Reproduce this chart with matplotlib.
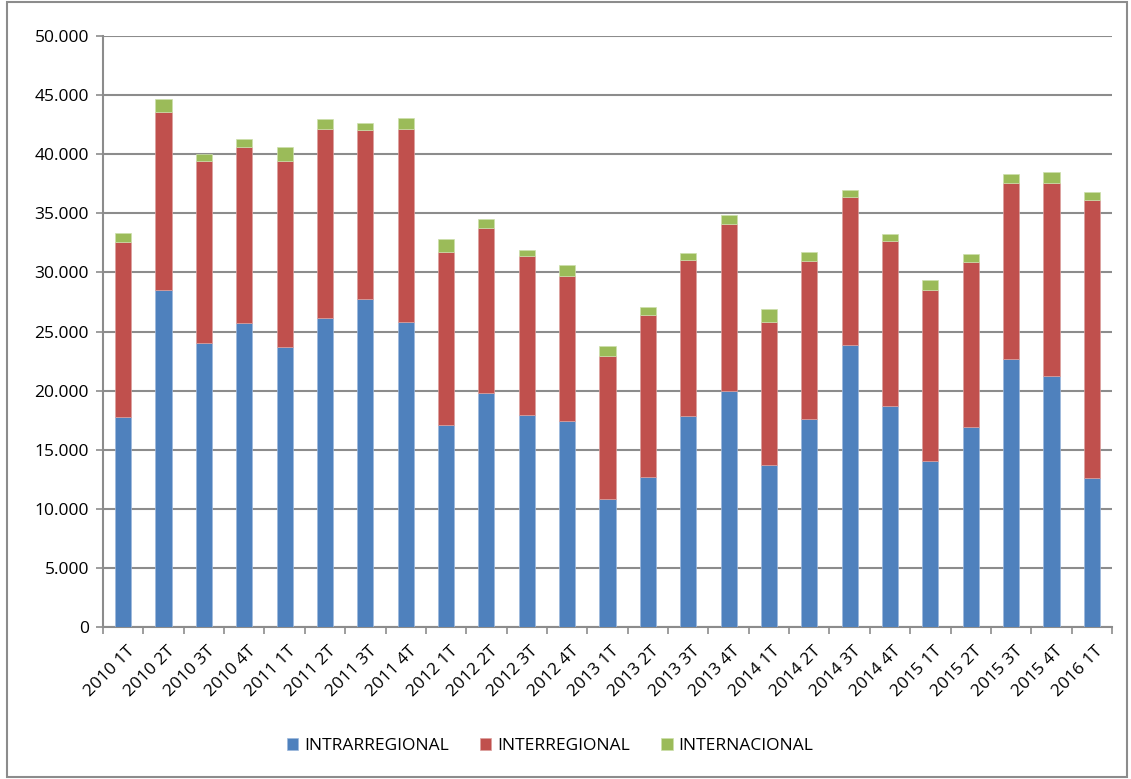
import numpy as np
import matplotlib
matplotlib.use('Agg')
import matplotlib.pyplot as plt
import matplotlib.patches as patches

# ----------------------------------------------------------------
# data

periods = ['2010 1T', '2010 2T', '2010 3T', '2010 4T',
           '2011 1T', '2011 2T', '2011 3T', '2011 4T',
           '2012 1T', '2012 2T', '2012 3T', '2012 4T',
           '2013 1T', '2013 2T', '2013 3T', '2013 4T',
           '2014 1T', '2014 2T', '2014 3T', '2014 4T',
           '2015 1T', '2015 2T', '2015 3T', '2015 4T',
           '2016 1T']

intrarregional = [17740, 28490, 24050, 25690, 23660, 26170, 27780, 25830,
                  17060, 19820, 17960, 17400, 10850, 12690, 17830, 19940,
                  13700, 17570, 23830, 18700, 14020, 16950, 22670, 21230,
                  12600]
interregional = [14800, 15110, 15370, 14940, 15790, 15990, 14300, 16330,
                 14640, 13960, 13400, 12320, 12100, 13680, 13250, 14180,
                 12120, 13420, 12520, 13980, 14520, 13930, 14920, 16360,
                 23550]
internacional = [790, 1050, 620, 650, 1130, 820, 570, 930,
                 1130, 740, 510, 900, 850, 680, 570, 760,
                 1050, 740, 620, 570, 800, 650, 740, 930,
                 680]

series_names = ['INTRARREGIONAL', 'INTERREGIONAL', 'INTERNACIONAL']
colors = ['#4F81BD', '#C0504D', '#9BBB59']

# ----------------------------------------------------------------
# plot

plt.rcParams['font.family'] = ['Open Sans', 'DejaVu Sans']
fs = 12.5

fig = plt.figure(figsize=(11.31, 7.79), dpi=100)
fig.set_facecolor('white')
ax = fig.add_axes([103/1131, 1-627/779, (1112-103)/1131, (627-36)/779])

x = np.arange(len(periods))
a = np.array(intrarregional)
b = np.array(interregional)
c = np.array(internacional)

w = 0.4
ax.bar(x, a, w, color=colors[0], label=series_names[0], zorder=3,
       edgecolor='#9db8dc', linewidth=0.5)
ax.bar(x, b, w, bottom=a, color=colors[1], label=series_names[1], zorder=3,
       edgecolor='#dca09e', linewidth=0.5)
ax.bar(x, c, w, bottom=a+b, color=colors[2], label=series_names[2], zorder=3,
       edgecolor='#cde0ac', linewidth=0.5)

ax.set_xlim(-0.5, len(periods)-0.5)
ax.set_ylim(0, 50000)
yt = np.arange(0, 50001, 5000)
ax.set_yticks(yt)
ax.set_yticklabels(['0' if v == 0 else '{:,}'.format(v).replace(',', '.') for v in yt],
                   fontsize=fs)
ax.yaxis.grid(True, color='#8c8c8c', linewidth=1.5, zorder=0)
ax.set_axisbelow(True)

# category ticks sit between bars
ax.set_xticks(np.arange(-0.5, len(periods), 1.0), minor=False)
ax.set_xticklabels([])
ax.set_xticks(x + 0.08, minor=True)
ax.set_xticklabels(periods, minor=True, rotation=45, ha='right',
                   rotation_mode='anchor', fontsize=fs)
ax.tick_params(axis='x', which='minor', length=0, pad=12)
ax.tick_params(axis='x', which='major', length=5, width=1.2, color='#8c8c8c')
ax.tick_params(axis='y', length=5, width=1.2, color='#8c8c8c', pad=5)

for s in ['top', 'right']:
    ax.spines[s].set_visible(False)
for s in ['left', 'bottom']:
    ax.spines[s].set_color('#8c8c8c')
    ax.spines[s].set_linewidth(1.5)

leg = fig.legend(loc='center', bbox_to_anchor=(550/1131, 1-746/779), ncol=3,
                 frameon=False, fontsize=fs, handlelength=0.65, handleheight=0.65,
                 handletextpad=0.35, columnspacing=1.8)

# outer chart border
fig.patches.append(patches.Rectangle((7/1131, 2/779), 1120/1131, 775/779,
                                     transform=fig.transFigure, fill=False,
                                     edgecolor='#8c8c8c', linewidth=1.5))

fig.savefig('out.png', dpi=100, facecolor='white')
